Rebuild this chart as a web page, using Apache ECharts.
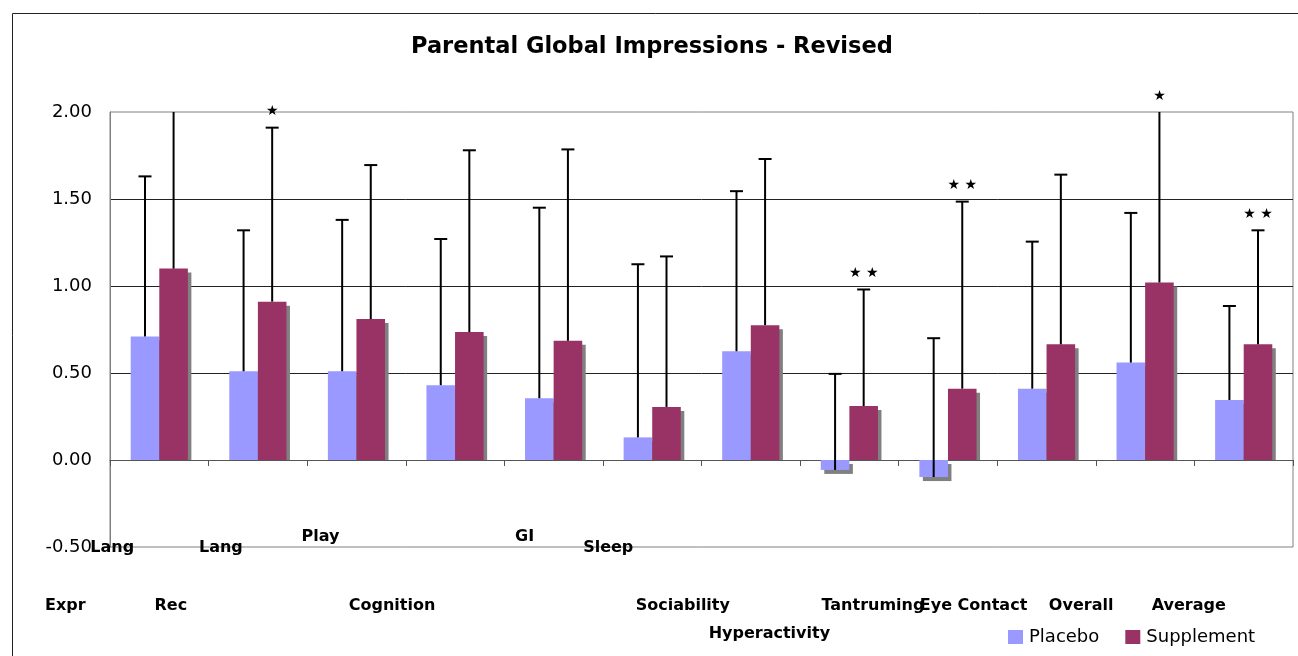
<!DOCTYPE html>
<html><head><meta charset="utf-8">
<script src="https://cdn.jsdelivr.net/npm/echarts@6/dist/echarts.min.js"></script>
<style>html,body{margin:0;padding:0;background:#fff}#c{width:1298px;height:656px}</style>
</head><body><div id="c"></div>
<script>
// ---- data ----
const categories = ['Expr Lang','Rec Lang','Play','Cognition','GI','Sleep','Sociability','Hyperactivity','Tantruming','Eye Contact','Overall','Average'];
const placebo        = [0.71, 0.51, 0.51, 0.43, 0.355, 0.13, 0.625, -0.057, -0.098, 0.41, 0.56, 0.345];
const placeboHigh    = [1.63, 1.32, 1.38, 1.27, 1.45, 1.125, 1.545, 0.495, 0.70, 1.255, 1.42, 0.885];
const supplement     = [1.10, 0.91, 0.81, 0.735, 0.685, 0.305, 0.775, 0.31, 0.41, 0.665, 1.02, 0.665];
const supplementHigh = [2.10, 1.91, 1.695, 1.78, 1.785, 1.17, 1.73, 0.98, 1.485, 1.64, 2.10, 1.32];
const significance   = ['', '*', '', '', '', '', '', '**', '**', '', '*', '**'];
const yMin = -0.5, yMax = 2.0, yStep = 0.5;

// ---- layout of the staggered category labels (Excel style) ----
// each entry: list of lines; w = word index (-1 = whole label), dx = horizontal shift, pt = top padding
const labelLayout = [
  [{w:1, dx:-47, pt:11}, {w:0, dx:-94, pt:42}],
  [{w:1, dx:-37, pt:11}, {w:0, dx:-87, pt:42}],
  [{w:-1, dx:-36, pt:0}],
  [{w:-1, dx:-63, pt:69}],
  [{w:-1, dx:-29, pt:0}],
  [{w:-1, dx:-44, pt:11}],
  [{w:-1, dx:-68, pt:69}],
  [{w:-1, dx:-80, pt:97}],
  [{w:-1, dx:-75, pt:69}],
  [{w:-1, dx:-73, pt:69}],
  [{w:-1, dx:-64, pt:69}],
  [{w:-1, dx:-55, pt:69}]
];

const FONT = '"DejaVu Sans", Verdana, sans-serif';
const GAP = 0.42;
const rich = {};
labelLayout.forEach((lines, i) => {
  lines.forEach((ln, k) => {
    rich['r' + i + '_' + k] = {
      fontSize: 16, fontWeight: 'bold', fontFamily: FONT, color: '#000',
      padding: [ln.pt, Math.max(0, -2 * ln.dx), 0, Math.max(0, 2 * ln.dx)]
    };
  });
});
function labelFormatter(value, index) {
  const words = value.split(' ');
  return labelLayout[index].map((ln, k) => {
    const t = ln.w < 0 ? value : words[ln.w];
    return '{r' + index + '_' + k + '|' + t + '}';
  }).join('\n');
}

function barGeom(api, idx, side) {
  const band = api.size([1, 0])[0];
  const bw = band * (1 - GAP) / 2;
  const c = api.coord([idx, 0]);
  return {bw: bw, cx: c[0] + side * bw / 2, left: side < 0 ? c[0] - bw : c[0], y0: c[1]};
}

function errRender(side) {
  return function (params, api) {
    const idx = api.value(0);
    const g = barGeom(api, idx, side);
    const yv = api.coord([idx, api.value(1)])[1];
    const yh = api.coord([idx, api.value(2)])[1];
    return {
      type: 'group',
      children: [
        {type: 'line', shape: {x1: g.cx, y1: yv, x2: g.cx, y2: yh}, style: {stroke: '#000', lineWidth: 2}},
        {type: 'line', shape: {x1: g.cx - 6.5, y1: yh, x2: g.cx + 6.5, y2: yh}, style: {stroke: '#000', lineWidth: 2}}
      ]
    };
  };
}

function shadowRender(side) {
  return function (params, api) {
    const idx = api.value(0), v = api.value(1);
    const g = barGeom(api, idx, side);
    const yv = api.coord([idx, v])[1];
    let y1, y2;
    if (v >= 0) { y1 = yv + 4; y2 = g.y0; } else { y1 = g.y0 + 4; y2 = yv + 4; }
    return {type: 'rect', shape: {x: g.left + 3.5, y: y1, width: g.bw, height: Math.max(0, y2 - y1)}, style: {fill: '#808080'}};
  };
}

function starRender(params, api) {
  const i = params.dataIndex;
  const s = significance[i];
  if (!s) return null;
  const idx = api.value(0);
  const g = barGeom(api, idx, 1);
  const y = api.coord([idx, Math.min(api.value(1), yMax)])[1] - 16;
  return {
    type: 'text',
    style: {
      text: s.split('').map(() => '\u2605').join(' '),
      x: g.cx, y: y, align: 'center', verticalAlign: 'middle',
      fontSize: 14, fontFamily: FONT, fill: '#000'
    }
  };
}

const chart = echarts.init(document.getElementById('c'));
chart.setOption({
  animation: false,
  backgroundColor: '#fff',
  title: {
    text: 'Parental Global Impressions - Revised',
    left: 411, top: 36, padding: 0,
    textStyle: {fontSize: 22.5, fontWeight: 'bold', fontFamily: FONT, color: '#000'}
  },
  graphic: [{
    type: 'rect', left: 10, top: 11, z: -10,
    shape: {width: 1400, height: 700},
    style: {fill: 'none', stroke: '#222', lineWidth: 1}
  }],
  legend: {
    data: ['Placebo', 'Supplement'],
    icon: 'rect', left: 1008, top: 628, padding: 0,
    itemWidth: 15, itemHeight: 14, itemGap: 26,
    textStyle: {fontSize: 18, fontFamily: FONT, color: '#000', padding: [0, 0, 0, 1]}
  },
  grid: {left: 110, right: 5, top: 112, bottom: 109, show: true, borderColor: '#808080', borderWidth: 1},
  xAxis: [{
    type: 'category', data: categories,
    axisLine: {onZero: true, lineStyle: {color: '#555', width: 1}},
    axisTick: {show: true, length: 6, lineStyle: {color: '#555'}},
    axisLabel: {show: false},
    splitLine: {show: false}
  }, {
    type: 'category', data: categories, position: 'bottom', offset: 0,
    axisLine: {show: false}, axisTick: {show: false},
    axisLabel: {interval: 0, margin: -18, formatter: labelFormatter, rich: rich, hideOverlap: false}
  }],
  yAxis: {
    type: 'value', min: yMin, max: yMax, interval: yStep,
    axisLine: {show: true, lineStyle: {color: '#808080'}},
    axisTick: {show: false},
    axisLabel: {fontSize: 18, fontFamily: FONT, color: '#000', margin: 18, formatter: v => v.toFixed(2)},
    splitLine: {show: true, showMinLine: false, showMaxLine: false, lineStyle: {color: '#222', width: 1}}
  },
  series: [{
    type: 'custom', name: 'shP', renderItem: shadowRender(-1), clip: true, z: 1,
    encode: {x: 0, y: 1},
    data: placebo.map((v, i) => [i, v])
  }, {
    type: 'custom', name: 'shS', renderItem: shadowRender(1), clip: true, z: 1,
    encode: {x: 0, y: 1},
    data: supplement.map((v, i) => [i, v])
  }, {
    name: 'Placebo', type: 'bar', data: placebo, barGap: '0%', barCategoryGap: (GAP * 100) + '%', z: 2,
    itemStyle: {color: '#9999FF'}
  }, {
    name: 'Supplement', type: 'bar', data: supplement, barGap: '0%', barCategoryGap: (GAP * 100) + '%', z: 2,
    itemStyle: {color: '#993366'}
  }, {
    type: 'custom', name: 'errP', renderItem: errRender(-1), clip: true, z: 5,
    encode: {x: 0, y: [1, 2]},
    data: placebo.map((v, i) => [i, v, placeboHigh[i]])
  }, {
    type: 'custom', name: 'errS', renderItem: errRender(1), clip: true, z: 5,
    encode: {x: 0, y: [1, 2]},
    data: supplement.map((v, i) => [i, v, supplementHigh[i]])
  }, {
    type: 'custom', name: 'sig', renderItem: starRender, clip: false, z: 6,
    encode: {x: 0, y: 1},
    data: supplementHigh.map((h, i) => [i, h])
  }]
});
</script></body></html>
